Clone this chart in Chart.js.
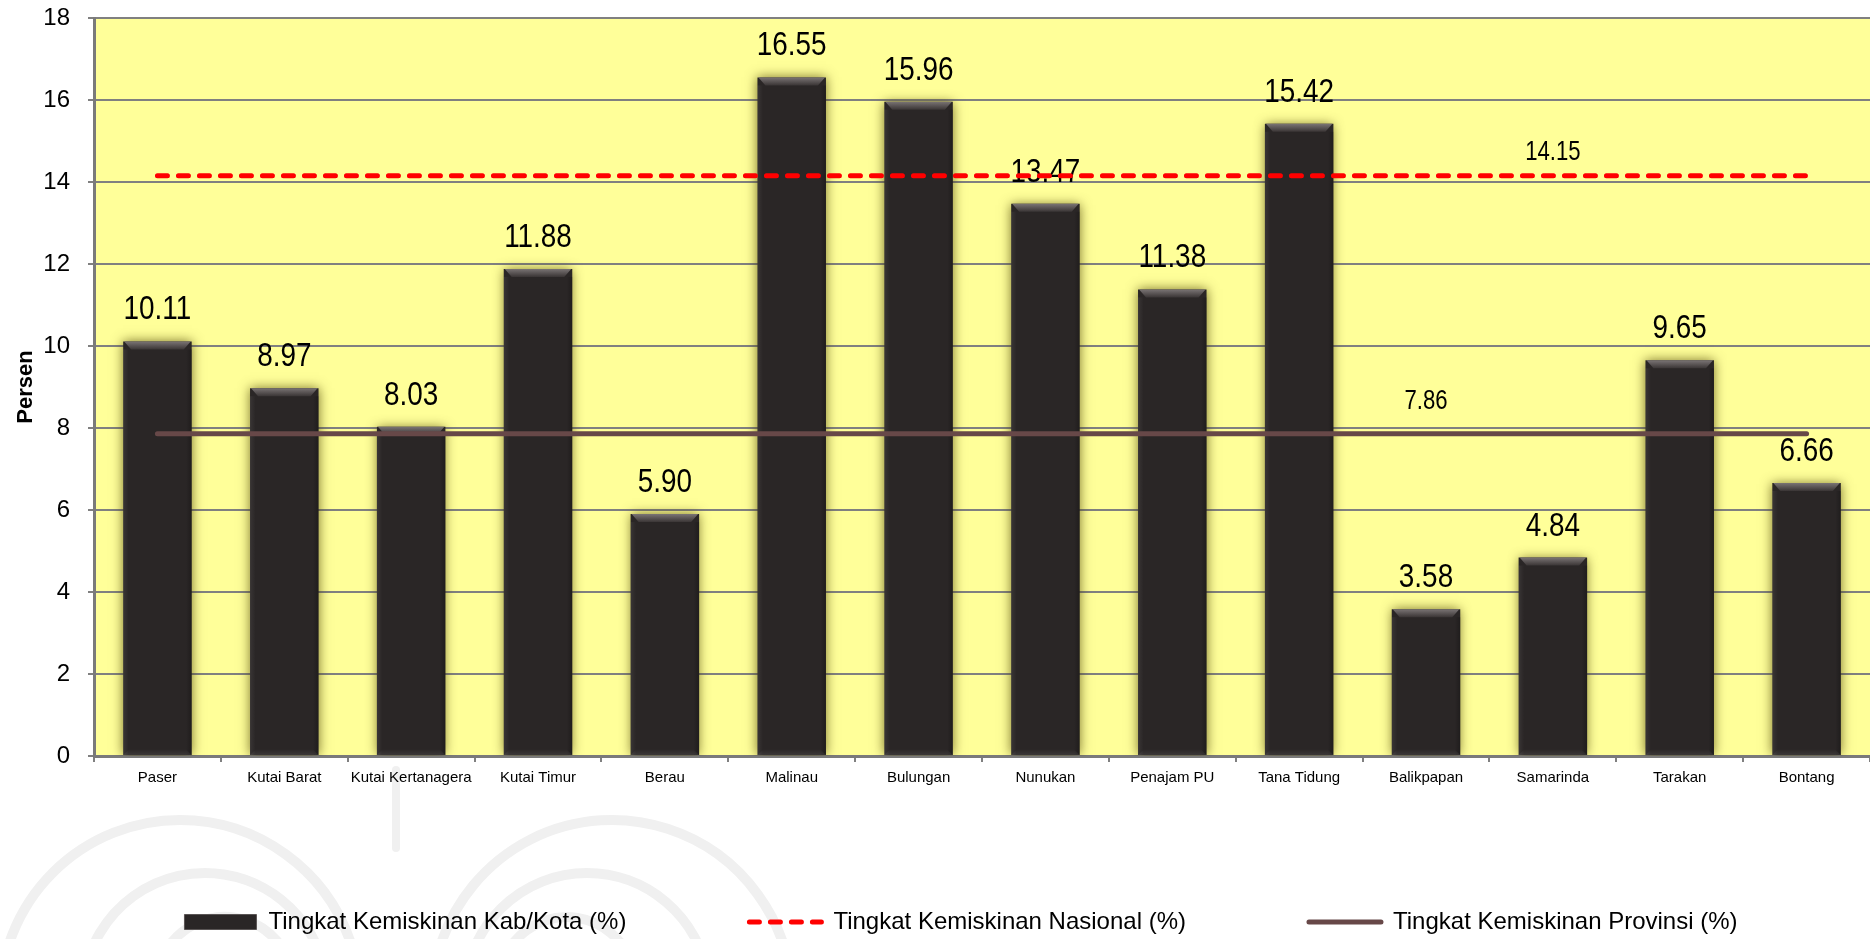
<!DOCTYPE html>
<html>
<head>
<meta charset="utf-8">
<script src="https://cdn.jsdelivr.net/npm/chart.js@4.4.1/dist/chart.umd.min.js"></script>
<style>
  html, body { margin: 0; padding: 0; background: #ffffff; overflow: hidden; }
  canvas { display: block; }
</style>
</head>
<body>
<canvas id="chart" width="1870" height="939"></canvas>
<script>
// Regencies / cities of Kalimantan Timur
const categories = ['Paser', 'Kutai Barat', 'Kutai Kertanagera', 'Kutai Timur', 'Berau', 'Malinau',
  'Bulungan', 'Nunukan', 'Penajam PU', 'Tana Tidung', 'Balikpapan', 'Samarinda', 'Tarakan', 'Bontang'];

// Poverty rate per regency / city (%)
const kabKotaRates = [10.11, 8.97, 8.03, 11.88, 5.90, 16.55, 15.96, 13.47, 11.38, 15.42, 3.58, 4.84, 9.65, 6.66];

// National poverty rate (%)
const nationalRates = [14.15, 14.15, 14.15, 14.15, 14.15, 14.15, 14.15, 14.15, 14.15, 14.15, 14.15, 14.15, 14.15, 14.15];

// Provincial poverty rate (%)
const provinceRates = [7.86, 7.86, 7.86, 7.86, 7.86, 7.86, 7.86, 7.86, 7.86, 7.86, 7.86, 7.86, 7.86, 7.86];

const seriesNames = ['Tingkat Kemiskinan Kab/Kota (%)', 'Tingkat Kemiskinan Nasional (%)', 'Tingkat Kemiskinan Provinsi (%)'];

// Value axis
const yMin = 0;
const yMax = 18;
const yStep = 2;

// Category at which each reference line carries its value label
const nationalLabelIndex = 11;
const provinceLabelIndex = 10;

const FONT = "'Liberation Sans Narrow', 'Arial Narrow', 'Liberation Sans', Arial, sans-serif";
const PLOT_BG = '#ffff99';
const BAR_COLOR = '#2a2626';
const NATIONAL_COLOR = '#ff0000';
const PROVINCE_COLOR = '#674848';
const GRID_COLOR = '#808080';
const NARROW = 0.82;        // horizontal squeeze for the value labels
const LEGEND_SHIFT = 26;    // legend row sits a little right of centre

// Faint logo marks in the page background
function drawBackgroundMark(ctx) {
  ctx.save();
  ctx.strokeStyle = '#f0f0f0';
  ctx.lineCap = 'round';
  ctx.lineWidth = 10;
  const arcs = [
    [180, 1000, 180, 1.0, 1.9],
    [205, 995, 122, 1.05, 2.0],
    [225, 985, 68, 1.1, 1.95],
    [612, 1000, 180, 1.1, 2.0],
    [587, 995, 122, 1.0, 1.95],
    [567, 985, 68, 1.05, 1.9]
  ];
  arcs.forEach(a => {
    ctx.beginPath();
    ctx.arc(a[0], a[1], a[2], a[3] * Math.PI, a[4] * Math.PI);
    ctx.stroke();
  });
  ctx.lineWidth = 8;
  ctx.beginPath();
  ctx.moveTo(396, 770);
  ctx.lineTo(396, 848);
  ctx.stroke();
  ctx.restore();
}

function drawNarrowText(ctx, text, x, y, size) {
  ctx.save();
  ctx.translate(x, y);
  ctx.scale(NARROW, 1);
  ctx.font = size + 'px ' + FONT;
  ctx.textAlign = 'center';
  ctx.textBaseline = 'alphabetic';
  ctx.fillStyle = '#000000';
  ctx.fillText(text, 0, 0);
  ctx.restore();
}

const decorPlugin = {
  id: 'decor',
  afterLayout(chart) {
    if (chart.legend) {
      chart.legend.left += LEGEND_SHIFT;
      chart.legend.right += LEGEND_SHIFT;
    }
  },
  beforeDraw(chart) {
    const { ctx, chartArea: a } = chart;
    drawBackgroundMark(ctx);
    ctx.save();
    ctx.fillStyle = PLOT_BG;
    ctx.fillRect(a.left, a.top, a.right - a.left, a.bottom - a.top);
    ctx.restore();
  },
  beforeDatasetDraw(chart, args) {
    if (args.index === 0) {
      const ctx = chart.ctx;
      ctx.save();
      ctx.shadowColor = 'rgba(70, 60, 0, 0.7)';
      ctx.shadowBlur = 11;
      ctx.shadowOffsetX = 0;
      ctx.shadowOffsetY = 0;
    }
  },
  afterDatasetDraw(chart, args) {
    const ctx = chart.ctx;
    const meta = args.meta;
    if (args.index === 0) {
      ctx.restore();
      ctx.save();
      // bevel highlights on the bars
      meta.data.forEach(el => {
        const left = el.x - el.width / 2;
        const right = el.x + el.width / 2;
        const top = el.y;
        const bottom = el.base;
        const b = 8;
        const g = ctx.createLinearGradient(0, top, 0, top + b);
        g.addColorStop(0, '#7a7474');
        g.addColorStop(1, '#3a3535');
        ctx.fillStyle = g;
        ctx.beginPath();
        ctx.moveTo(left + 1, top);
        ctx.lineTo(right - 1, top);
        ctx.lineTo(right - b, top + b);
        ctx.lineTo(left + b, top + b);
        ctx.closePath();
        ctx.fill();
        // side shading
        const sg = ctx.createLinearGradient(left, 0, right, 0);
        sg.addColorStop(0, 'rgba(255,255,255,0.07)');
        sg.addColorStop(0.08, 'rgba(255,255,255,0)');
        sg.addColorStop(0.92, 'rgba(0,0,0,0)');
        sg.addColorStop(1, 'rgba(0,0,0,0.25)');
        ctx.fillStyle = sg;
        ctx.fillRect(left, top + b, right - left, bottom - top - b);
        // bottom bevel
        const bg = ctx.createLinearGradient(0, bottom - 6, 0, bottom);
        bg.addColorStop(0, 'rgba(255,255,255,0)');
        bg.addColorStop(1, 'rgba(255,255,255,0.08)');
        ctx.fillStyle = bg;
        ctx.beginPath();
        ctx.moveTo(left + 6, bottom - 6);
        ctx.lineTo(right - 6, bottom - 6);
        ctx.lineTo(right, bottom);
        ctx.lineTo(left, bottom);
        ctx.closePath();
        ctx.fill();
      });
      ctx.restore();
      // value labels above the bars
      meta.data.forEach((el, i) => {
        drawNarrowText(ctx, kabKotaRates[i].toFixed(2), el.x, el.y - 22, 34);
      });
    } else {
      const ds = chart.data.datasets[args.index];
      if (ds.labelIndex === undefined) return;
      const el = meta.data[ds.labelIndex];
      drawNarrowText(ctx, ds.data[ds.labelIndex].toFixed(2), el.x, el.y - ds.labelGap, 27);
    }
  }
};

Chart.defaults.font.family = FONT;
Chart.defaults.color = '#000000';

new Chart(document.getElementById('chart'), {
  type: 'bar',
  data: {
    labels: categories,
    datasets: [
      {
        type: 'bar',
        label: seriesNames[0],
        data: kabKotaRates,
        backgroundColor: BAR_COLOR,
        borderWidth: 0,
        barPercentage: 0.54,
        categoryPercentage: 1.0,
        order: 10
      },
      {
        type: 'line',
        label: seriesNames[1],
        data: nationalRates,
        borderColor: NATIONAL_COLOR,
        backgroundColor: NATIONAL_COLOR,
        borderWidth: 5,
        borderDash: [10, 11],
        borderCapStyle: 'round',
        pointRadius: 0,
        fill: false,
        order: 2,
        labelIndex: nationalLabelIndex,
        labelGap: 16
      },
      {
        type: 'line',
        label: seriesNames[2],
        data: provinceRates,
        borderColor: PROVINCE_COLOR,
        backgroundColor: PROVINCE_COLOR,
        borderWidth: 5,
        borderCapStyle: 'round',
        pointRadius: 0,
        fill: false,
        order: 1,
        labelIndex: provinceLabelIndex,
        labelGap: 25
      }
    ]
  },
  options: {
    responsive: false,
    animation: false,
    devicePixelRatio: 1,
    layout: { padding: { top: 0, left: 0, right: 0, bottom: -5 } },
    plugins: {
      tooltip: { enabled: false },
      legend: {
        position: 'bottom',
        labels: {
          usePointStyle: true,
          pointStyleWidth: 72,
          boxHeight: 15,
          padding: 123,
          color: '#000000',
          font: { size: 24, family: FONT },
          generateLabels(chart) {
            const ds = chart.data.datasets;
            return [
              { text: ds[0].label, datasetIndex: 0, pointStyle: 'rect', fillStyle: BAR_COLOR,
                strokeStyle: '#5a5555', lineWidth: 1, fontColor: '#000000' },
              { text: ds[1].label, datasetIndex: 1, pointStyle: 'line', fillStyle: NATIONAL_COLOR,
                strokeStyle: NATIONAL_COLOR, lineWidth: 5, lineDash: [10, 11], lineCap: 'round', fontColor: '#000000' },
              { text: ds[2].label, datasetIndex: 2, pointStyle: 'line', fillStyle: PROVINCE_COLOR,
                strokeStyle: PROVINCE_COLOR, lineWidth: 5, lineCap: 'round', fontColor: '#000000' }
            ];
          }
        }
      }
    },
    scales: {
      x: {
        offset: true,
        grid: {
          display: true,
          offset: true,
          drawOnChartArea: false,
          drawTicks: true,
          tickLength: 6,
          color: GRID_COLOR,
          lineWidth: 2
        },
        border: { display: true, color: '#7a7a7a', width: 3 },
        ticks: {
          autoSkip: false,
          maxRotation: 0,
          minRotation: 0,
          padding: 7,
          color: '#000000',
          font: { size: 15, family: FONT }
        },
        afterFit(scale) { scale.height = 31; }
      },
      y: {
        min: yMin,
        max: yMax,
        ticks: {
          stepSize: yStep,
          padding: 18,
          color: '#000000',
          font: { size: 24, family: FONT }
        },
        grid: {
          color: GRID_COLOR,
          lineWidth: 2,
          tickLength: 6
        },
        border: { display: true, color: '#7a7a7a', width: 3 },
        title: {
          display: true,
          text: 'Persen',
          color: '#000000',
          font: { size: 22, weight: 'bold', family: FONT },
          padding: { top: 13, bottom: 0 }
        },
        afterFit(scale) {
          scale.width = 94;
          scale.paddingTop = 18;
          scale.paddingBottom = 0;
        }
      }
    }
  },
  plugins: [decorPlugin]
});
</script>
</body>
</html>
